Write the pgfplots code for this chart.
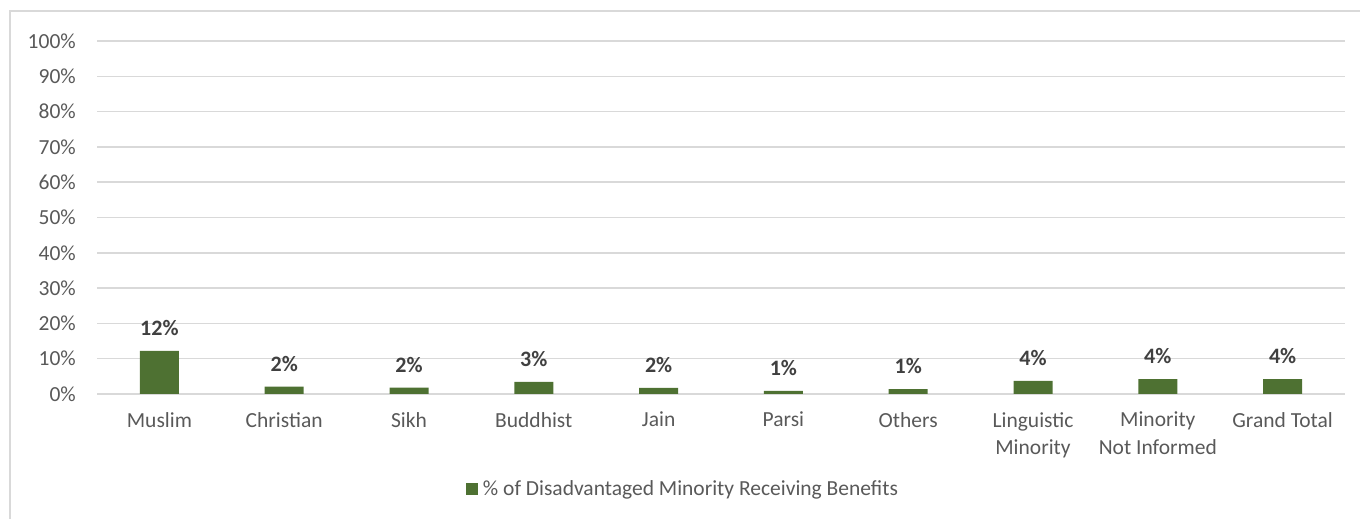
\documentclass[border=0pt]{standalone}
\usepackage{pgfplots}
\pgfplotsset{compat=1.18}
\usepackage{fontspec}
\setmainfont{Carlito}
\definecolor{bargreen}{HTML}{4E7132}
\definecolor{txt}{HTML}{595959}
\definecolor{lbl}{HTML}{404040}
\definecolor{gridc}{HTML}{D9D9D9}
\begin{document}
\begin{tikzpicture}
\useasboundingbox (0pt,0pt) rectangle (1360pt,519pt);
\draw[gridc, line width=1.5pt] (10pt,0pt) -- (10pt,508pt) -- (1360pt,508pt);
\begin{axis}[
  at={(97pt,125pt)}, anchor=south west,
  width=1248pt, height=353pt, scale only axis,
  xmin=-0.5, xmax=9.5, ymin=0, ymax=100,
  ytick={0,10,...,100},
  yticklabel={\pgfmathprintnumber{\tick}\%},
  yticklabel style={anchor=east, inner sep=0pt, xshift=-21pt, text=txt, font=\fontsize{21.5}{26}\selectfont},
  /pgf/number format/assume math mode=true,
  xtick={0,...,9},
  xticklabels={Muslim, Christian, Sikh, Buddhist, Jain, Parsi, Others, Linguistic\\Minority, Minority\\Not Informed, Grand Total},
  xticklabel style={anchor=north, inner sep=0pt, yshift=-18pt, align=center, text=txt, font=\fontsize{21.5}{27.5}\selectfont},
  axis line style={draw=none},
  tick style={draw=none},
  ymajorgrids, major grid style={gridc, line width=1.5pt},
  clip=false,
  legend style={at={(0.4707,-0.269)}, anchor=center, draw=none, fill=none,
    font=\fontsize{21.5}{26}\selectfont, text=txt, inner sep=0pt,
    nodes={inner xsep=5pt, inner ysep=0pt},
    /tikz/every even column/.append style={column sep=0pt}},
  legend cell align=left,
]
\addplot[ybar, bar width=39pt, fill=bargreen, draw=none,
  point meta=y,
  nodes near coords={\pgfmathprintnumber[fixed,precision=0]{\pgfplotspointmeta}\%},
  every node near coord/.append style={anchor=south, inner sep=0pt, yshift=15pt, text=lbl, font=\fontsize{22}{26}\selectfont\bfseries},
  legend image code/.code={\fill[bargreen] (0pt,-6pt) rectangle (12pt,6pt);},
] coordinates {
  (0,12.2) (1,2.1) (2,1.8) (3,3.4) (4,1.7) (5,0.9) (6,1.4) (7,3.7) (8,4.2) (9,4.2)
};
\addlegendentry{\% of Disadvantaged Minority Receiving Benefits}
\end{axis}
\end{tikzpicture}
\end{document}
